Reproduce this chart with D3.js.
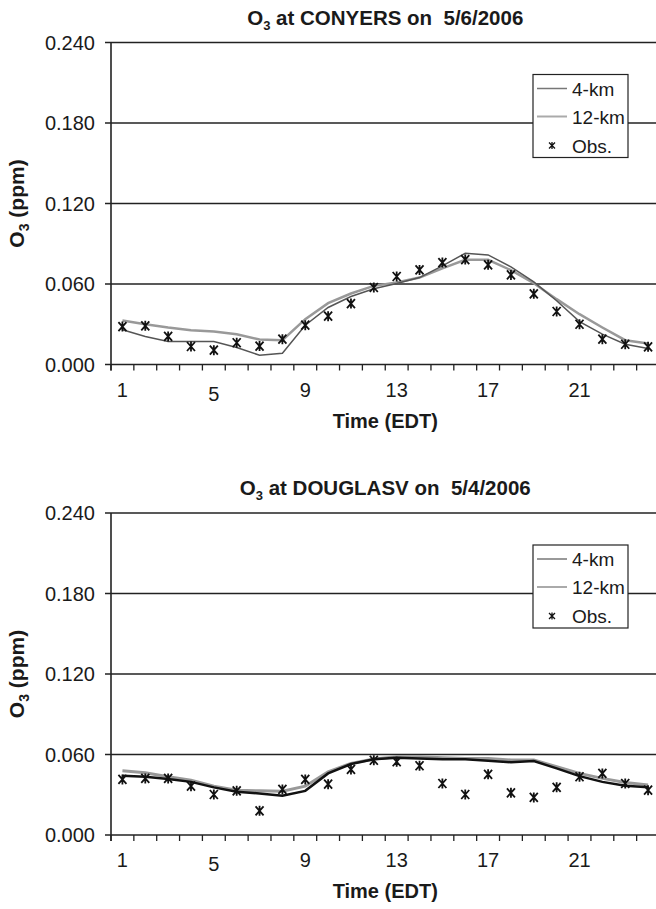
<!DOCTYPE html>
<html>
<head>
<meta charset="utf-8">
<script src="https://cdn.jsdelivr.net/npm/d3@7"></script>
<style>
  body { margin: 0; background: #fff; }
  svg { display: block; }
  text { font-family: "Liberation Sans", Arial, Helvetica, sans-serif; fill: #1a1a1a; }
</style>
</head>
<body>
<div id="chart"></div>
<script>
// hours of the day (category axis)
const hours = d3.range(1, 25);
const hourLabels = [1, 5, 9, 13, 17, 21];
const yTicks = [0, 0.06, 0.12, 0.18, 0.24];

// CONYERS 5/6/2006
const conyers4km = [0.0259, 0.0209, 0.0171, 0.0171, 0.0171, 0.0127, 0.0069, 0.0084, 0.0293, 0.0425, 0.0507, 0.0564,
  0.0603, 0.0648, 0.0735, 0.0829, 0.0817, 0.0728, 0.0616, 0.0475, 0.0320, 0.0226, 0.0151, 0.0119];
const conyers12km = [0.0328, 0.0300, 0.0276, 0.0256, 0.0246, 0.0226, 0.0186, 0.0181, 0.0338, 0.0457, 0.0529, 0.0586,
  0.0611, 0.0648, 0.0717, 0.0780, 0.0780, 0.0703, 0.0606, 0.0487, 0.0375, 0.0276, 0.0181, 0.0156];
const conyersObs = [0.0283, 0.0288, 0.0209, 0.0134, 0.0107, 0.0162, 0.0137, 0.0189, 0.0293, 0.0360, 0.0454, 0.0574,
  0.0656, 0.0705, 0.0760, 0.0782, 0.0743, 0.0668, 0.0527, 0.0395, 0.0300, 0.0189, 0.0151, 0.0132];

// DOUGLASV 5/4/2006
const douglas4km = [0.0441, 0.0434, 0.0417, 0.0396, 0.0355, 0.0322, 0.0310, 0.0292, 0.0329, 0.0459, 0.0529, 0.0564,
  0.0576, 0.0571, 0.0564, 0.0564, 0.0554, 0.0542, 0.0551, 0.0497, 0.0439, 0.0396, 0.0367, 0.0355];
const douglas12km = [0.0479, 0.0464, 0.0434, 0.0409, 0.0364, 0.0334, 0.0329, 0.0327, 0.0364, 0.0471, 0.0534, 0.0566,
  0.0583, 0.0583, 0.0576, 0.0571, 0.0571, 0.0559, 0.0559, 0.0509, 0.0459, 0.0422, 0.0392, 0.0372];
const douglasObs = [0.0414, 0.0422, 0.0422, 0.0364, 0.0302, 0.0329, 0.0180, 0.0340, 0.0414, 0.0379, 0.0489, 0.0557,
  0.0546, 0.0516, 0.0384, 0.0302, 0.0452, 0.0314, 0.0280, 0.0355, 0.0434, 0.0459, 0.0384, 0.0334];

const W = 656, H = 909;
const svg = d3.select("#chart").append("svg")
  .attr("width", W)
  .attr("height", H);

const star = "M-4,-4.5L4,4.5M-4,4.5L4,-4.5M0,-5L0,5";

let panel = (top, site, date, m4, m12, obs, style4, style12) => {
  const left = 111, right = 659.5, bottom = top + 322;
  const x = d3.scaleLinear().domain([0.5, 24.5]).range([left, right]);
  const y = d3.scaleLinear().domain([0, 0.24]).range([bottom, top]);
  const g = svg.append("g");

  // title
  const t = g.append("text")
    .attr("x", (left + right) / 2)
    .attr("y", top - 18)
    .attr("text-anchor", "middle")
    .style("font-size", "20.5px")
    .style("font-weight", "bold");
  t.append("tspan").text("O");
  t.append("tspan").attr("dy", 5).style("font-size", "13px").text("3");
  t.append("tspan").attr("dy", -5).text(" at " + site + " on \u00a0" + date);

  // gridlines + y ticks
  g.selectAll(".grid").data(yTicks).join("line")
    .attr("x1", left - 6).attr("x2", W)
    .attr("y1", d => y(d)).attr("y2", d => y(d))
    .attr("stroke", "#222").attr("stroke-width", 1.3);

  g.selectAll(".ylab").data(yTicks).join("text")
    .attr("x", left - 16)
    .attr("y", d => y(d))
    .attr("dy", "0.36em")
    .attr("text-anchor", "end")
    .style("font-size", "20px")
    .text(d3.format(".3f"));

  // y axis line
  g.append("line")
    .attr("x1", left).attr("x2", left)
    .attr("y1", top).attr("y2", bottom + 6)
    .attr("stroke", "#222").attr("stroke-width", 1.6);

  // x ticks at category boundaries
  g.selectAll(".xt").data(d3.range(0.5, 25, 1)).join("line")
    .attr("x1", d => x(d)).attr("x2", d => x(d))
    .attr("y1", bottom).attr("y2", bottom + 6)
    .attr("stroke", "#222").attr("stroke-width", 1.3);

  g.selectAll(".xlab").data(hourLabels).join("text")
    .attr("x", d => x(d))
    .attr("y", d => bottom + (d === 5 ? 36 : 32))
    .attr("text-anchor", "middle")
    .style("font-size", "20px")
    .text(d => d);

  g.append("text")
    .attr("x", (left + right) / 2)
    .attr("y", bottom + 63)
    .attr("text-anchor", "middle")
    .style("font-size", "20px")
    .style("font-weight", "bold")
    .text("Time (EDT)");

  const yl = g.append("text")
    .attr("transform", `translate(24,${(top + bottom) / 2}) rotate(-90)`)
    .attr("text-anchor", "middle")
    .style("font-size", "21px")
    .style("font-weight", "bold");
  yl.append("tspan").text("O");
  yl.append("tspan").attr("dy", 5).style("font-size", "14px").text("3");
  yl.append("tspan").attr("dy", -5).text(" (ppm)");

  // series
  const line = d3.line().x((d, i) => x(hours[i])).y(d => y(d));
  g.append("path").datum(m12).attr("d", line)
    .attr("fill", "none").attr("stroke", style12.c).attr("stroke-width", style12.w);
  g.append("path").datum(m4).attr("d", line)
    .attr("fill", "none").attr("stroke", style4.c).attr("stroke-width", style4.w);

  g.selectAll(".obs").data(obs).join("path")
    .attr("transform", (d, i) => `translate(${x(hours[i])},${y(d)})`)
    .attr("d", star)
    .attr("stroke", "#111").attr("stroke-width", 1.8).attr("fill", "none");

  // legend
  const lx = 533, ly = top + 32;
  const lg = g.append("g").attr("transform", `translate(${lx},${ly})`);
  lg.append("rect").attr("width", 95).attr("height", 83)
    .attr("fill", "#fff").attr("stroke", "#222").attr("stroke-width", 1.2);
  lg.append("line").attr("x1", 4).attr("x2", 34).attr("y1", 14).attr("y2", 14)
    .attr("stroke", "#777").attr("stroke-width", 1.5);
  lg.append("line").attr("x1", 4).attr("x2", 34).attr("y1", 42).attr("y2", 42)
    .attr("stroke", "#aaa").attr("stroke-width", 2);
  lg.append("path").attr("d", "M-3,-3L3,3M-3,3L3,-3M0,-3.6L0,3.6")
    .attr("transform", "translate(19,71)")
    .attr("stroke", "#111").attr("stroke-width", 1.3).attr("fill", "none");
  const labs = [["4-km", 21], ["12-km", 49], ["Obs.", 78]];
  labs.forEach(([s, yy]) => {
    lg.append("text").attr("x", 39).attr("y", yy)
      .style("font-size", "19px").text(s);
  });
};

panel(42.5, "CONYERS", "5/6/2006", conyers4km, conyers12km, conyersObs,
  { c: "#555", w: 1.5 }, { c: "#999", w: 2.5 });
panel(513, "DOUGLASV", "5/4/2006", douglas4km, douglas12km, douglasObs,
  { c: "#111", w: 2.5 }, { c: "#999", w: 3 });
</script>
</body>
</html>
